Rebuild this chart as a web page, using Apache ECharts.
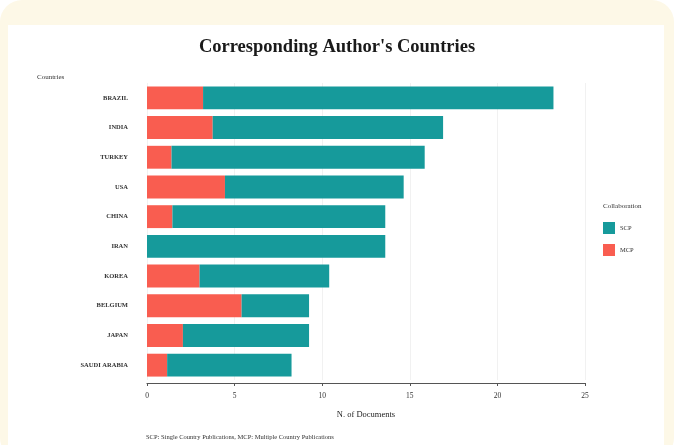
<!DOCTYPE html>
<html>
<head>
<meta charset="utf-8">
<script src="https://cdn.jsdelivr.net/npm/echarts@6/dist/echarts.min.js"></script>
<style>
  html, body { margin: 0; padding: 0; background: #ffffff; }
  #card { position: absolute; left: 0; top: 0; width: 674px; height: 460px; background: #fdf8e7; border-radius: 22px; }
  #inner { position: absolute; left: 8px; top: 25px; width: 656px; height: 440px; background: #ffffff; }
  #chart { position: absolute; left: 0; top: 0; width: 674px; height: 445px; }
</style>
</head>
<body>
<div id="card"></div>
<div id="inner"></div>
<div id="chart"></div>
<script>
const countries = ["BRAZIL", "INDIA", "TURKEY", "USA", "CHINA", "IRAN", "KOREA", "BELGIUM", "JAPAN", "SAUDI ARABIA"];
const mcpValues = [3.2, 3.75, 1.4, 4.45, 1.45, 0, 3.0, 5.4, 2.05, 1.15];
const totalValues = [23.2, 16.9, 15.85, 14.65, 13.6, 13.6, 10.4, 9.25, 9.25, 8.25];
const scpValues = totalValues.map((t, i) => +(t - mcpValues[i]).toFixed(2));
const xTicks = [0, 5, 10, 15, 20, 25];

const serif = "Liberation Serif";
const chart = echarts.init(document.getElementById('chart'), null, { renderer: 'canvas' });
chart.setOption({
  backgroundColor: 'transparent',
  animation: false,
  title: {
    text: "Corresponding Author's Countries",
    left: 'center', top: 33,
    textStyle: { fontFamily: serif, fontWeight: 'bold', fontSize: 18.5, color: '#1a1a1a' }
  },
  grid: { left: 147, right: 89, top: 83, bottom: 65, containLabel: false },
  xAxis: {
    type: 'value', min: xTicks[0], max: xTicks[xTicks.length - 1], interval: 5,
    offset: 3,
    name: 'N. of Documents', nameLocation: 'middle', nameGap: 27,
    nameTextStyle: { fontFamily: serif, fontSize: 8.5, color: '#222' },
    axisLine: { show: true, lineStyle: { color: '#555', width: 1.2 } },
    axisTick: { show: true, length: 3, lineStyle: { color: '#555' } },
    axisLabel: { fontFamily: serif, fontSize: 7.5, color: '#333', margin: 9 },
    splitLine: { show: true, lineStyle: { color: '#f1f1f1', width: 1 } }
  },
  yAxis: {
    type: 'category', data: countries, inverse: true,
    axisLine: { show: false }, axisTick: { show: false },
    axisLabel: { fontFamily: serif, fontWeight: 'bold', fontSize: 6.5, color: '#333', margin: 19 },
    splitLine: { show: false }
  },
  legend: {
    data: ['SCP', 'MCP'], orient: 'vertical', left: 598, top: 217,
    itemWidth: 12, itemHeight: 12, itemGap: 10, icon: 'rect',
    textStyle: { fontFamily: serif, fontSize: 6.5, color: '#333' }
  },
  graphic: [
    { type: 'text', left: 37, top: 74, style: { text: 'Countries', fontFamily: serif, fontSize: 7, fill: '#333' } },
    { type: 'text', left: 603, top: 203, style: { text: 'Collaboration', fontFamily: serif, fontSize: 7, fill: '#333' } },
    { type: 'text', left: 146, top: 434, style: { text: 'SCP: Single Country Publications, MCP: Multiple Country Publications', fontFamily: serif, fontSize: 6.5, fill: '#333' } }
  ],
  series: [
    { name: 'MCP', type: 'bar', stack: 'a', data: mcpValues, barCategoryGap: '23%',
      itemStyle: { color: '#f95d50' } },
    { name: 'SCP', type: 'bar', stack: 'a', data: scpValues, barCategoryGap: '23%',
      itemStyle: { color: '#169a9b' } }
  ]
});
</script>
</body>
</html>
